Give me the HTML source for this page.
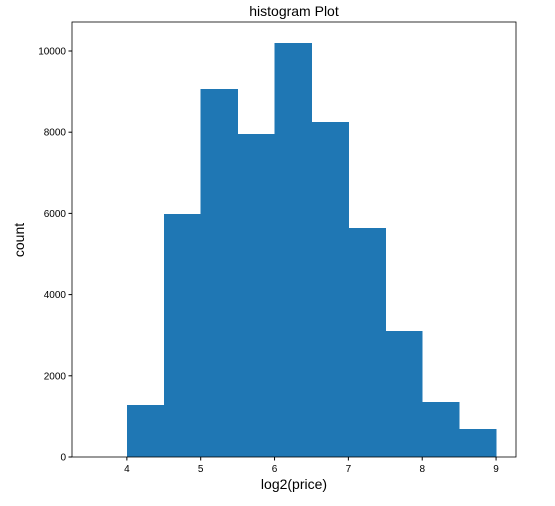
<!DOCTYPE html>
<html><head><meta charset="utf-8"><style>
body{margin:0;background:#fff;font-family:"Liberation Sans",sans-serif;}
</style></head><body>
<svg id="chart" width="555" height="501" xmlns="http://www.w3.org/2000/svg" font-family="Liberation Sans, sans-serif">
<rect width="555" height="501" fill="#fff"/>
<text x="294" y="16" text-anchor="middle" font-size="14">histogram Plot</text>
<g id="bars" shape-rendering="crispEdges"></g>
<g id="axes"></g>
<text x="294" y="489" text-anchor="middle" font-size="14">log2(price)</text>
<text x="24" y="240" text-anchor="middle" font-size="14" transform="rotate(-90 24 240)">count</text>
</svg>
<script>
const binEdges = [4,4.5,5,5.5,6,6.5,7,7.5,8,8.5,9];
const counts = [1280,5990,9060,7950,10200,8250,5640,3100,1350,690];
const xTicks = [4,5,6,7,8,9];
const yTicks = [0,2000,4000,6000,8000,10000];
const L=72,R=516,T=22,B=457;
const xMin=3.257,xMax=9.27,yMax=10714;
const xs=v=>L+(v-xMin)/(xMax-xMin)*(R-L);
const ys=v=>B-v/yMax*(B-T);
const NS="http://www.w3.org/2000/svg";
const bars=document.getElementById('bars'),axes=document.getElementById('axes');
counts.forEach((c,i)=>{
 const r=document.createElementNS(NS,'rect');
 const x0=xs(binEdges[i]),x1=xs(binEdges[i+1]);
 r.setAttribute('x',x0);r.setAttribute('width',x1-x0+0.5);
 r.setAttribute('y',ys(c));r.setAttribute('height',B-ys(c));
 r.setAttribute('fill','#1f77b4');
 
 
 bars.appendChild(r);
});
const f=document.createElementNS(NS,'rect');
f.setAttribute('x',L);f.setAttribute('y',T);f.setAttribute('width',R-L);f.setAttribute('height',B-T);
f.setAttribute('fill','none');f.setAttribute('stroke','#000');f.setAttribute('stroke-width','0.8');


axes.appendChild(f);
xTicks.forEach(t=>{
 const x=xs(t);
 const l=document.createElementNS(NS,'line');
 l.setAttribute('x1',x);l.setAttribute('x2',x);l.setAttribute('y1',B);l.setAttribute('y2',B+3.5);l.setAttribute('stroke','#000');
 
 
 axes.appendChild(l);
 const tx=document.createElementNS(NS,'text');
 tx.setAttribute('x',x);tx.setAttribute('y',B+15);tx.setAttribute('text-anchor','middle');tx.setAttribute('font-size','10');
 tx.textContent=t;
 
 
 axes.appendChild(tx);
});
yTicks.forEach(t=>{
 const y=ys(t);
 const l=document.createElementNS(NS,'line');
 l.setAttribute('x1',L-3.5);l.setAttribute('x2',L);l.setAttribute('y1',y);l.setAttribute('y2',y);l.setAttribute('stroke','#000');
 
 
 axes.appendChild(l);
 const tx=document.createElementNS(NS,'text');
 tx.setAttribute('x',L-6);tx.setAttribute('y',y+3.5);tx.setAttribute('text-anchor','end');tx.setAttribute('font-size','10');
 tx.textContent=t;
 
 
 axes.appendChild(tx);
});
</script>
</body></html>
